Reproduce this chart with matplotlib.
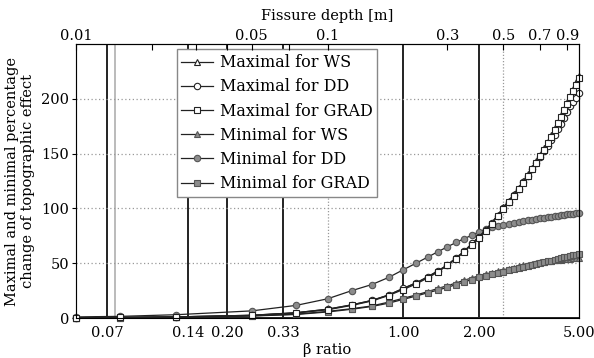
import matplotlib
matplotlib.use("Agg")
import matplotlib.pyplot as plt
import numpy as np

plt.rcParams['font.family'] = 'DejaVu Serif'
plt.rcParams['font.size'] = 10

# fissure depth [m]; beta ratio = depth / 0.2
depth = [0.01, 0.015, 0.025, 0.05, 0.075, 0.1, 0.125, 0.15, 0.175, 0.2,
         0.225, 0.25, 0.275, 0.3, 0.325, 0.35, 0.375, 0.4, 0.425, 0.45,
         0.475, 0.5, 0.525, 0.55, 0.575, 0.6, 0.625, 0.65, 0.675, 0.7,
         0.725, 0.75, 0.775, 0.8, 0.825, 0.85, 0.875, 0.9, 0.925, 0.95,
         0.975, 1.0]

max_ws = [0.3, 0.5, 1.0, 2.5, 4.8, 8, 12, 16, 21, 27, 32, 37.5, 43, 48.5,
          55, 61, 68, 74, 80, 87, 94, 101, 107, 113, 119, 125, 131, 137,
          143, 149, 155, 161, 167, 173, 179, 185, 191, 197, 203, 209, 215, 221]
max_dd = [0.3, 0.5, 1.0, 2.5, 4.8, 8, 12, 16, 21, 27, 32, 37.5, 43, 48.5,
          55, 61, 68, 74, 80, 87, 93.5, 100, 106, 112, 118, 124, 130, 135.5,
          141, 146.5, 152, 157, 162, 167, 172, 177, 182.5, 188, 193, 197.5,
          201, 205]
max_grad = [0.3, 0.5, 1.0, 2.3, 4.5, 7.5, 11.5, 15.5, 20.5, 26, 31, 36.5,
            42, 48, 54, 60.5, 67, 73, 79.5, 86, 93, 99.5, 105.5, 111.5,
            117.5, 123.5, 129.5, 135.5, 141.5, 147.5, 153.5, 159.5, 165.5,
            171.5, 177.5, 183.5, 189.5, 195.5, 201.5, 207, 213, 219]
min_ws = [0.3, 0.4, 0.7, 2, 3.5, 6, 8.5, 11, 14.5, 18, 21, 24, 27, 29.5, 32,
          34.5, 36.5, 38.5, 40, 41.5, 43, 44, 45, 46, 47, 48, 48.8, 49.5,
          50.2, 50.8, 51.3, 51.8, 52.2, 52.6, 53, 53.3, 53.6, 53.9, 54.1,
          54.3, 54.5, 54.7]
min_dd = [1, 1.5, 3, 6.5, 11.5, 17.5, 25, 30.5, 37, 44, 50, 55.5, 60.5, 65,
          69, 72.5, 75.5, 78.5, 81, 83, 84, 85, 86, 87, 87.8, 88.5, 89.2,
          89.8, 90.4, 91, 91.5, 92, 92.5, 93, 93.4, 93.8, 94.2, 94.6, 95,
          95.3, 95.6, 96]
min_grad = [0.3, 0.4, 0.7, 1.8, 3.2, 5.5, 8, 10.5, 13.5, 17, 20, 23, 25.5,
            28, 30.5, 33, 35, 37, 38.5, 40, 41.2, 42.3, 43.4, 44.5, 45.5,
            46.5, 47.4, 48.3, 49.2, 50, 50.8, 51.6, 52.4, 53.2, 54, 54.7,
            55.4, 56, 56.6, 57.2, 57.8, 58.4]

beta_ticks = [1 / 15, 0.14, 0.20, 1 / 3, 1.0, 2.0, 5.0]
beta_labels = ['0.07', '0.14', '0.20', '0.33', '1.00', '2.00', '5.00']
beta_lines = [1 / 15, 0.14, 0.20, 1 / 3, 1.0, 2.0]
beta_dotted = [0.5, 2.5]
depth_ticks = [0.01, 0.02, 0.03, 0.04, 0.05, 0.07, 0.1, 0.3, 0.5, 0.7, 0.9]
depth_labels = ['0.01', '', '', '', '0.05', '', '0.1', '0.3', '0.5', '0.7', '0.9']

beta = np.array(depth) * 5

fig = plt.figure(figsize=(5.94, 3.58), dpi=100)
ax = fig.add_axes([76 / 594, 1 - 318 / 358, 503 / 594, 274 / 358])
ax.set_xscale('log')
ax.set_xlim(0.05, 5.0)
ax.set_ylim(0, 250)

for b in beta_lines:
    ax.axvline(b, color='#222222', lw=1.4, zorder=1)
ax.axvline(0.0714, color='#b5b5b5', lw=1.3, zorder=1)
for b in beta_dotted:
    ax.axvline(b, color='#999999', lw=0.9, ls=(0, (1, 1.5)), zorder=1)
for y in [50, 100, 150, 200]:
    ax.axhline(y, color='#999999', lw=0.9, ls=(0, (1, 2)), zorder=1)

ms = 4.6
open_kw = dict(color='#222222', lw=0.9, mfc='white', mec='#222222', mew=0.8,
               ms=ms, clip_on=False, zorder=4)
fill_kw = dict(color='#222222', lw=0.9, mfc='#8c8c8c', mec='#555555', mew=0.8,
               ms=ms, clip_on=False, zorder=3)

ax.plot(beta, max_ws, marker='^', label='Maximal for WS', **open_kw)
ax.plot(beta, max_dd, marker='o', label='Maximal for DD', **open_kw)
ax.plot(beta, max_grad, marker='s', label='Maximal for GRAD', **open_kw)
ax.plot(beta, min_ws, marker='^', label='Minimal for WS', **fill_kw)
ax.plot(beta, min_dd, marker='o', label='Minimal for DD', **fill_kw)
ax.plot(beta, min_grad, marker='s', label='Minimal for GRAD', **fill_kw)

ax.set_xticks(beta_ticks)
ax.set_xticklabels(beta_labels)
ax.xaxis.set_minor_locator(matplotlib.ticker.NullLocator())
ax.set_yticks([0, 50, 100, 150, 200])
ax.tick_params(axis='x', direction='in', length=0, pad=6, labelsize=10.5)
ax.tick_params(axis='y', direction='out', length=3, labelsize=10.5, pad=2)
ax.set_xlabel('β ratio', fontsize=10.5, labelpad=2)
ax.set_ylabel('Maximal and minimal percentage\nchange of topographic effect',
              fontsize=10.5, labelpad=4)
ax.spines['left'].set_color('#888888')
for s in ['top', 'right', 'bottom']:
    ax.spines[s].set_color('#222222')
ax.spines['bottom'].set_linewidth(1.4)

top = ax.twiny()
top.set_xscale('log')
top.set_xlim(0.01, 1.0)
top.set_xticks(depth_ticks)
top.set_xticklabels(depth_labels)
top.xaxis.set_minor_locator(matplotlib.ticker.NullLocator())
top.tick_params(axis='x', direction='in', length=4, pad=1, labelsize=10.5)
top.set_xlabel('Fissure depth [m]', fontsize=10.5, labelpad=6)

leg = ax.legend(loc='upper left', bbox_to_anchor=(0.2, 0.98), fontsize=11.5,
                handlelength=2.0, handletextpad=0.4, labelspacing=0.45,
                borderpad=0.3, borderaxespad=0.0, fancybox=False, framealpha=1,
                edgecolor='#888888')
leg.get_frame().set_linewidth(1.0)

fig.savefig('out.png', dpi=100)
